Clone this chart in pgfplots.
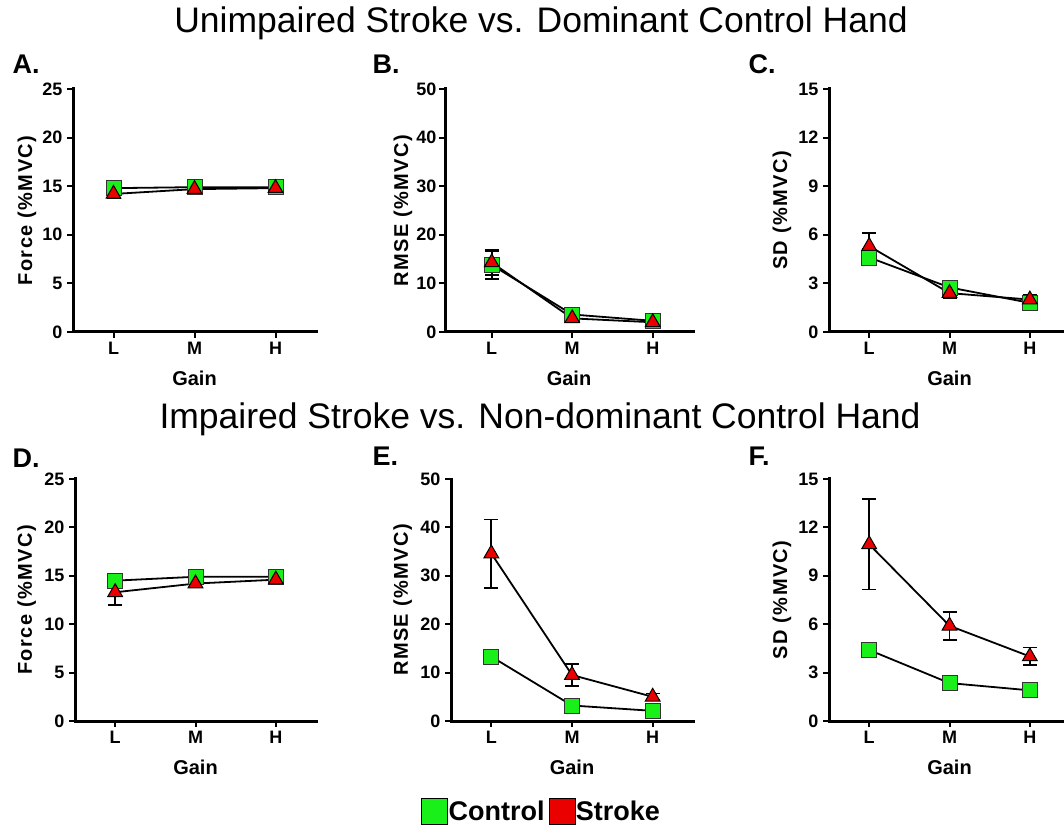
\documentclass[border=0pt]{standalone}
\usepackage{fontspec}
\setmainfont{Liberation Sans}
\usepackage{pgfplots}
\pgfplotsset{compat=1.18}
\definecolor{cgreen}{RGB}{25,240,25}
\definecolor{cred}{RGB}{235,0,0}
\pgfplotsset{
  panel/.style={
    scale only axis, height=242pt,
    anchor=south west,
    axis x line*=bottom, axis y line*=left,
    axis line style={line width=3pt, black, line cap=rect},
    tick align=outside, major tick length=6pt,
    tick style={line width=2pt, black},
    xtick={0,1,2}, xticklabels={L,M,H},
    xmin=-0.5, xmax=2.5, ymin=0,
    /pgf/number format/assume math mode=true,
    ticklabel style={font=\fontsize{18}{18}\selectfont\bfseries},
    yticklabel style={xshift=-1pt},
    xticklabel style={yshift=-1pt},
    xlabel={Gain},
    xlabel style={font=\fontsize{20}{20}\selectfont\bfseries, at={(axis description cs:0.5,-0.19)}, anchor=center},
    ylabel style={font=\fontsize{20}{20}\selectfont\bfseries\addfontfeature{LetterSpace=7}, anchor=center},
    clip=false,
  },
  ebar/.style={
    /pgfplots/error bars/y dir=both,
    /pgfplots/error bars/y explicit,
    /pgfplots/error bars/error bar style={line width=1.8pt, black},
    /pgfplots/error bars/error mark options={black, line width=1.8pt, mark size=7pt, rotate=90}},
  ctrl/.style={black, line width=1.8pt, mark=square*, mark size=7.5pt,
    mark options={fill=cgreen, draw=black!80, line width=0.8pt}, ebar},
  strk/.style={black, line width=1.8pt, mark=triangle*, mark size=8.5pt,
    mark options={fill=cred, draw=black, line width=1pt}, ebar},
}
\begin{document}
\begin{tikzpicture}
\path[use as bounding box] (0pt,0pt) rectangle (1064pt,824pt);
% titles
\node[font=\fontsize{35.5}{35.5}\selectfont] at (541pt,801pt) {Unimpaired Stroke vs. Dominant Control Hand};
\node[font=\fontsize{35.5}{35.5}\selectfont] at (540pt,405pt) {Impaired Stroke vs. Non-dominant Control Hand};
% panel letters
\node[font=\fontsize{27}{27}\selectfont\bfseries, anchor=west] at (9pt,760pt) {A.};
\node[font=\fontsize{27}{27}\selectfont\bfseries, anchor=west] at (369pt,760pt) {B.};
\node[font=\fontsize{27}{27}\selectfont\bfseries, anchor=west] at (745pt,760pt) {C.};
\node[font=\fontsize{27}{27}\selectfont\bfseries, anchor=west] at (9pt,366pt) {D.};
\node[font=\fontsize{27}{27}\selectfont\bfseries, anchor=west] at (369pt,368pt) {E.};
\node[font=\fontsize{27}{27}\selectfont\bfseries, anchor=west] at (745pt,368pt) {F.};

% A
\begin{axis}[panel, at={(73pt,492pt)}, width=243pt, height=243pt,
  ymax=25, ytick={0,5,10,15,20,25}, ylabel={Force (\%MVC)},
  ylabel style={at={(axis description cs:-0.19,0.5)}}]
\addplot[ctrl] coordinates {(0,14.8) +- (0,0.3) (1,14.9) +- (0,0.3) (2,14.9) +- (0,0.3)};
\addplot[strk] coordinates {(0,14.2) +- (0,0.4) (1,14.7) +- (0,0.4) (2,14.8) +- (0,0.3)};
\end{axis}
% B
\begin{axis}[panel, at={(445pt,492pt)}, width=248pt, height=243pt, xmin=-0.58,
  ymax=50, ytick={0,10,20,30,40,50}, ylabel={RMSE (\%MVC)},
  yticklabel style={xshift=2pt},
  ylabel style={at={(axis description cs:-0.17,0.5)}}]
\addplot[ctrl] coordinates {(0,13.8) +- (0,2.9) (1,3.6) +- (0,0.5) (2,2.3) +- (0,0.3)};
\addplot[strk] coordinates {(0,14.3) +- (0,2.5) (1,2.8) +- (0,0.5) (2,2.0) +- (0,0.5)};
\end{axis}
% C
\begin{axis}[panel, at={(829pt,492pt)}, width=241pt, height=243pt,
  ymax=15, ytick={0,3,6,9,12,15}, ylabel={SD (\%MVC)},
  ylabel style={at={(axis description cs:-0.195,0.5)}}]
\addplot[ctrl] coordinates {(0,4.6) +- (0,0.5) (1,2.75) +- (0,0.2) (2,1.8) +- (0,0.2)};
\addplot[strk] coordinates {(0,5.3) +- (0,0.8) (1,2.4) +- (0,0.3) (2,2.0) +- (0,0.3)};
\end{axis}
% D
\begin{axis}[panel, at={(75pt,103pt)}, width=241pt,
  ymax=25, ytick={0,5,10,15,20,25}, ylabel={Force (\%MVC)},
  ylabel style={at={(axis description cs:-0.2,0.5)}}]
\addplot[ctrl] coordinates {(0,14.5) +- (0,0.5) (1,14.9) +- (0,0.3) (2,14.9) +- (0,0.3)};
\addplot[strk] coordinates {(0,13.3) +- (0,1.3) (1,14.2) +- (0,0.4) (2,14.6) +- (0,0.3)};
\end{axis}
% E
\begin{axis}[panel, at={(451pt,103pt)}, width=242pt,
  ymax=50, ytick={0,10,20,30,40,50}, ylabel={RMSE (\%MVC)},
  ylabel style={at={(axis description cs:-0.2,0.5)}},
  legend style={at={(axis description cs:0.372,-0.372)}, anchor=center, draw=none,
    legend columns=2, font=\fontsize{27}{27}\selectfont\bfseries,
    /tikz/every even column/.append style={column sep=3pt},
    inner sep=0pt, nodes={inner sep=1pt}},
  legend image code/.code={\fill[#1] (0pt,-13pt) rectangle (26pt,13pt);}]
\addplot[forget plot, ctrl] coordinates {(0,13.3) +- (0,0.6) (1,3.2) +- (0,0.4) (2,2.1) +- (0,0.3)};
\addplot[forget plot, strk] coordinates {(0,34.6) +- (0,7.05) (1,9.5) +- (0,2.3) (2,5.0) +- (0,0.7)};
\addlegendimage{fill=cgreen}
\addlegendentry{Control}
\addlegendimage{fill=cred}
\addlegendentry{Stroke}
\end{axis}
% F
\begin{axis}[panel, at={(829pt,103pt)}, width=241pt,
  ymax=15, ytick={0,3,6,9,12,15}, ylabel={SD (\%MVC)},
  ylabel style={at={(axis description cs:-0.195,0.5)}}]
\addplot[ctrl] coordinates {(0,4.4) +- (0,0.3) (1,2.35) +- (0,0.2) (2,1.9) +- (0,0.15)};
\addplot[strk] coordinates {(0,10.95) +- (0,2.8) (1,5.9) +- (0,0.86) (2,4.0) +- (0,0.55)};
\end{axis}
\end{tikzpicture}
\end{document}
